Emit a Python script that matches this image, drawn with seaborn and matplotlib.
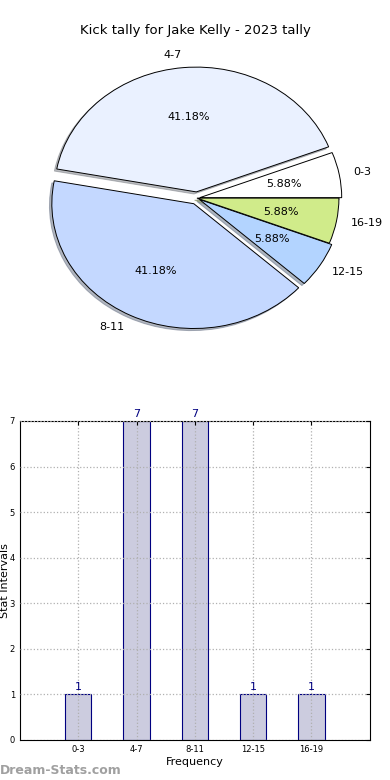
import matplotlib
matplotlib.use("Agg")
import matplotlib.pyplot as plt
import seaborn as sns
import pandas as pd

# data
intervals = ["0-3", "4-7", "8-11", "12-15", "16-19"]
counts = [1, 7, 7, 1, 1]
pie_colors = ["#ffffff", "#eaf1ff", "#c4d8ff", "#b3d4ff", "#d0eb8a"]
explode = [0.02, 0.05, 0.05, 0.02, 0.0]
title = "Kick tally for Jake Kelly - 2023 tally"

sns.set_style("white")
plt.rcParams["font.family"] = ["DejaVu Sans"]
plt.rcParams["text.color"] = "black"
plt.rcParams["axes.labelcolor"] = "black"
plt.rcParams["xtick.color"] = "black"
plt.rcParams["ytick.color"] = "black"

fig = plt.figure(figsize=(3.9, 7.8), dpi=100)

# Pie (elliptical, like the old renderer)
ax_pie = fig.add_axes([0.05, 0.546, 0.91, 0.40])
wedges, texts, autotexts = ax_pie.pie(
    counts, labels=intervals, colors=pie_colors, explode=explode,
    autopct="%1.2f%%", startangle=0,
    shadow={"ox": -0.012, "oy": -0.012, "shade": 0.5},
    labeldistance=1.1, pctdistance=0.6,
    wedgeprops={"edgecolor": "black", "linewidth": 0.7},
    textprops={"fontsize": 8, "color": "black"})
ax_pie.set_aspect("auto")
ax_pie.set_xlim(-1.25, 1.25)
ax_pie.set_ylim(-1.25, 1.25)
ax_pie.axis("off")
fig.text(0.5, 0.961, title, ha="center", va="center", fontsize=9.5)

# Bar chart
ax = fig.add_axes([0.051, 0.0513, 0.897, 0.409])
df = pd.DataFrame({"interval": intervals, "count": counts})
sns.barplot(data=df, x="interval", y="count", color="#ccccdf", edgecolor="navy",
            linewidth=0.8, width=0.45, saturation=1, ax=ax)
ax.set_xlim(-1, 5)
ax.set_ylim(0, 7)
ax.set_yticks(range(0, 8))
ax.grid(True, linestyle=":", color="#b0b0b0", linewidth=0.9)
ax.set_axisbelow(False)
ax.tick_params(labelsize=6, direction="in", length=3, top=True, right=True)
for sp in ax.spines.values():
    sp.set_color("black")
    sp.set_linewidth(0.8)
for i, c in enumerate(counts):
    ax.text(i, c + 0.05, str(c), ha="center", va="bottom", color="navy", fontsize=8)
ax.set_xlabel("Frequency", fontsize=8, labelpad=2)
ax.set_ylabel("Stat Intervals", fontsize=8, labelpad=2)
ax.yaxis.set_label_coords(-0.028, 0.5)

fig.text(0.0, 0.012, "Dream-Stats.com", fontsize=9, color="#a0a0a0",
         fontweight="bold", ha="left", va="center")

fig.savefig("out.png", dpi=100)
